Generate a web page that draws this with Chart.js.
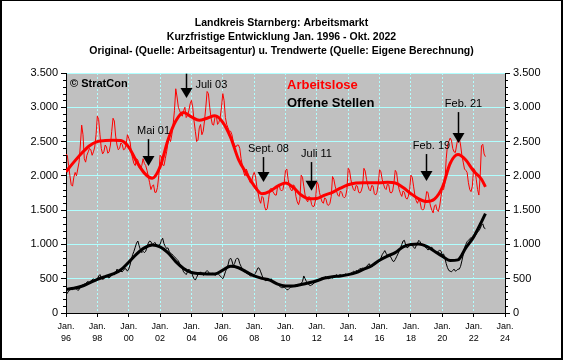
<!DOCTYPE html>
<html>
<head>
<meta charset="utf-8">
<script src="https://cdn.jsdelivr.net/npm/chart.js@4/dist/chart.umd.min.js"></script>
<style>
html, body { margin: 0; padding: 0; background: #fff; }
#wrap { width: 563px; height: 360px; }
</style>
</head>
<body>
<div id="wrap"><canvas id="c" width="563" height="360"></canvas></div>
<script>
var FONT = '"Liberation Sans", Arial, sans-serif';

// monthly values, Jan. 1996 - Okt. 2022
var startYear = 1996;
var arbeitslose = [
	2320, 2300, 2150, 2000, 1870, 1850, 1980, 2050, 2000, 2100, 2200, 2450,
	2740, 2600, 2250, 2200, 2300, 2350, 2400, 2380, 2300, 2350, 2420, 2600,
	2870, 2820, 2600, 2400, 2320, 2350, 2450, 2420, 2330, 2350, 2450, 2650,
	2840, 2800, 2580, 2450, 2380, 2400, 2480, 2460, 2380, 2390, 2450, 2600,
	2550, 2500, 2350, 2250, 2180, 2150, 2250, 2230, 2120, 2100, 2150, 2250,
	2180, 2150, 2080, 1990, 1900, 1800, 1850, 1870, 1760, 1760, 1830, 2000,
	2300, 2280, 2160, 2150, 2250, 2350, 2480, 2550, 2500, 2600, 2750, 2950,
	3270, 3150, 3000, 2950, 2900, 2870, 2950, 3000, 2850, 2880, 2950, 3050,
	3100, 3000, 2800, 2650, 2500, 2520, 2700, 2750, 2600, 2650, 2800, 3000,
	3230, 3200, 3000, 2850, 2750, 2740, 2850, 2880, 2750, 2780, 2850, 3000,
	3200, 3100, 2850, 2750, 2700, 2650, 2650, 2600, 2500, 2450, 2420, 2450,
	2450, 2400, 2250, 2150, 2050, 2000, 2100, 2050, 1950, 1900, 1900, 2000,
	2050, 2000, 1850, 1750, 1650, 1600, 1700, 1680, 1550, 1500, 1520, 1650,
	1800, 1820, 1780, 1750, 1720, 1720, 1850, 1880, 1800, 1780, 1800, 1900,
	2080, 2100, 1950, 1850, 1800, 1780, 1870, 1850, 1700, 1620, 1580, 1650,
	2010, 1980, 1850, 1720, 1650, 1620, 1700, 1680, 1580, 1550, 1560, 1650,
	1910, 1880, 1760, 1680, 1620, 1600, 1680, 1660, 1580, 1570, 1600, 1700,
	1990, 1950, 1850, 1780, 1720, 1700, 1780, 1760, 1700, 1680, 1700, 1800,
	2110, 2080, 1950, 1860, 1800, 1780, 1860, 1850, 1760, 1750, 1780, 1850,
	2110, 2070, 1950, 1860, 1800, 1780, 1860, 1850, 1740, 1720, 1760, 1880,
	2090, 2060, 1950, 1880, 1820, 1800, 1880, 1870, 1760, 1750, 1780, 1900,
	2080, 2050, 1900, 1800, 1740, 1700, 1780, 1760, 1680, 1660, 1700, 1800,
	2010, 1980, 1850, 1720, 1640, 1600, 1650, 1620, 1520, 1500, 1520, 1620,
	1770, 1760, 1650, 1560, 1500, 1460, 1560, 1580, 1500, 1480, 1560, 1700,
	1820, 1800, 1900, 2250, 2450, 2500, 2550, 2520, 2400, 2350, 2340, 2450,
	2560, 2550, 2450, 2300, 2200, 2100, 2080, 2050, 1900, 1800, 1770, 1850,
	2110, 2080, 1950, 1800, 1720, 2000, 2440, 2460, 2320, 2280
];
var offeneStellen = [
	260, 290, 320, 340, 350, 340, 360, 380, 350, 330, 340, 380,
	400, 410, 420, 430, 450, 460, 440, 470, 480, 500, 480, 470,
	490, 540, 560, 510, 490, 500, 520, 540, 520, 510, 530, 560,
	570, 560, 580, 640, 620, 600, 610, 600, 620, 650, 640, 610,
	640, 700, 780, 850, 900, 960, 1020, 1050, 980, 920, 880, 900,
	880, 900, 960, 1020, 1050, 1040, 1000, 1010, 1030, 1000, 980, 990,
	1000, 1060, 1090, 1010, 970, 940, 950, 900, 870, 860, 840, 820,
	800, 780, 760, 720, 680, 650, 600, 580, 560, 600, 640, 620,
	600, 540, 500, 480, 520, 560, 580, 600, 570, 550, 560, 600,
	620, 600, 570, 560, 580, 570, 550, 560, 590, 560, 540, 520,
	500, 540, 600, 650, 700, 780, 800, 760, 690, 720, 780, 800,
	790, 720, 680, 640, 620, 600, 580, 570, 560, 540, 540, 560,
	560, 580, 620, 660, 650, 600, 550, 500, 480, 470, 480, 490,
	480, 500, 470, 450, 440, 430, 420, 400, 380, 370, 370, 380,
	360, 340, 340, 360, 380, 380, 390, 400, 410, 390, 400, 420,
	430, 460, 540, 500, 460, 430, 410, 400, 410, 420, 440, 450,
	460, 470, 480, 500, 520, 510, 520, 530, 510, 500, 510, 520,
	510, 520, 540, 560, 540, 550, 560, 540, 550, 560, 570, 560,
	560, 570, 580, 590, 610, 600, 620, 610, 630, 650, 640, 660,
	640, 660, 680, 700, 720, 690, 670, 690, 700, 720, 740, 750,
	760, 800, 850, 880, 910, 870, 840, 860, 830, 800, 760, 750,
	780, 820, 860, 900, 950, 1000, 1050, 1060, 990, 950, 960, 1000,
	1010, 990, 960, 940, 980, 1020, 1060, 1040, 1000, 990, 980, 960,
	940, 920, 930, 950, 960, 930, 910, 880, 880, 900, 920, 900,
	850, 860, 800, 720, 660, 620, 610, 600, 620, 640, 610, 620,
	640, 640, 680, 760, 850, 950, 1000, 1040, 1060, 1080, 1100, 1080,
	1100, 1120, 1150, 1180, 1200, 1230, 1280, 1300, 1240, 1230
];

// trend values, half-yearly
var trendDates = [
	1996, 1996.5, 1997, 1997.5, 1998, 1998.5, 1999, 1999.5, 2000, 2000.5,
	2001, 2001.5, 2002, 2002.5, 2003, 2003.5, 2004, 2004.5, 2005, 2005.5,
	2006, 2006.5, 2007, 2007.5, 2008, 2008.5, 2009, 2009.5, 2010, 2010.5,
	2011, 2011.5, 2012, 2012.5, 2013, 2013.5, 2014, 2014.5, 2015, 2015.5,
	2016, 2016.5, 2017, 2017.5, 2018, 2018.5, 2019, 2019.5, 2020, 2020.5,
	2021, 2021.5, 2022, 2022.5, 2022.75
];
var trendArbeitslose = [
	2060, 2200, 2330, 2440, 2500, 2515, 2520, 2515, 2420, 2210,
	2040, 1965, 2130, 2520, 2800, 2925, 2860, 2810, 2840, 2875,
	2780, 2560, 2240, 2040, 1855, 1740, 1775, 1850, 1895, 1830,
	1720, 1665, 1670, 1720, 1760, 1820, 1870, 1895, 1900, 1900,
	1900, 1905, 1895, 1830, 1740, 1665, 1625, 1660, 1830, 2180,
	2310, 2230, 2070, 1950, 1840
];
var trendOffene = [
	345, 360, 390, 440, 490, 530, 570, 630, 740, 860,
	950, 990, 965, 880, 750, 650, 590, 575, 570, 570,
	625, 680, 660, 600, 540, 505, 480, 420, 395, 395,
	415, 440, 470, 510, 530, 540, 560, 590, 640, 690,
	770, 830, 880, 965, 1000, 1005, 970, 900, 830, 765,
	775, 950, 1110, 1330, 1450
];

var yTickLabels = ["0", "500", "1.000", "1.500", "2.000", "2.500", "3.000", "3.500"];
var xTickLabels = ["96", "98", "00", "02", "04", "06", "08", "10", "12", "14", "16", "18", "20", "22", "24"];

// arrows: label, date, top value, tip value
var arrowLabels = ["Mai 01", "Juli 03", "Sept. 08", "Juli 11", "Feb. 19", "Feb. 21"];
var arrowDates = [2001.25, 2003.68, 2008.58, 2011.6, 2018.94, 2021.02];
var arrowTop = [2536, 3490, 2274, 2201, 2318, 2930];
var arrowTip = [2143, 3134, 1910, 1783, 1924, 2478];

function monthly(values) {
	return values.map(function(v, i) { return { x: startYear + i / 12, y: v }; });
}
function byDate(dates, values) {
	return values.map(function(v, i) { return { x: dates[i], y: v }; });
}

var GRID = '#b0ffff';

var backdrop = {
	id: 'backdrop',
	beforeDraw: function(chart) {
		var ctx = chart.ctx, a = chart.chartArea;
		ctx.save();
		ctx.fillStyle = '#fff';
		ctx.fillRect(0, 0, chart.width, chart.height);
		ctx.fillStyle = '#c0c0c0';
		ctx.fillRect(a.left, a.top, a.right - a.left, a.bottom - a.top);
		ctx.restore();
	}
};

var notes = {
	id: 'notes',
	afterDatasetsDraw: function(chart) {
		var ctx = chart.ctx, a = chart.chartArea;
		var xs = chart.scales.x, ys = chart.scales.y;
		ctx.save();
		ctx.textBaseline = 'alphabetic';

		// arrows
		ctx.font = '11px ' + FONT;
		ctx.fillStyle = '#000';
		ctx.strokeStyle = '#000';
		arrowLabels.forEach(function(lab, i) {
			var px = Math.round(xs.getPixelForValue(arrowDates[i])) + 0.5;
			var top = ys.getPixelForValue(arrowTop[i]);
			var tip = ys.getPixelForValue(arrowTip[i]);
			ctx.lineWidth = 1.5;
			ctx.beginPath();
			ctx.moveTo(px, top);
			ctx.lineTo(px, tip - 8);
			ctx.stroke();
			ctx.beginPath();
			ctx.moveTo(px - 6, tip - 10);
			ctx.lineTo(px + 6, tip - 10);
			ctx.lineTo(px, tip);
			ctx.closePath();
			ctx.fill();
			if (i === 1) {
				ctx.textAlign = 'left';
				ctx.fillText(lab, px + 9, top + 14);
			} else {
				ctx.textAlign = 'center';
				ctx.fillText(lab, px + 5, top - 5);
			}
		});

		// copyright + legend
		ctx.textAlign = 'left';
		ctx.font = 'bold 11px ' + FONT;
		ctx.fillText('\u00a9 StratCon', a.left + 4, a.top + 14);
		ctx.font = 'bold 13px ' + FONT;
		ctx.fillStyle = '#ff0000';
		ctx.fillText('Arbeitslose', 287, a.top + 16);
		ctx.fillStyle = '#000';
		ctx.fillText('Offene Stellen', 287, a.top + 34);
		ctx.restore();
	},
	afterDraw: function(chart) {
		var ctx = chart.ctx, a = chart.chartArea, ys = chart.scales.y;
		ctx.save();
		ctx.strokeStyle = '#000';
		ctx.lineWidth = 1;
		ctx.beginPath();
		for (var v = 100; v < 3500; v += 100) {
			if (v % 500 === 0) continue;
			var py = Math.round(ys.getPixelForValue(v)) + 0.5;
			ctx.moveTo(a.left - 3, py);
			ctx.lineTo(a.left, py);
			ctx.moveTo(a.right, py);
			ctx.lineTo(a.right + 3, py);
		}
		ctx.stroke();
		// frame
		ctx.fillStyle = '#000';
		ctx.fillRect(0, 0, 2, chart.height);
		ctx.fillRect(chart.width - 2, 0, 2, chart.height);
		ctx.fillRect(0, 0, chart.width, 1);
		ctx.fillRect(0, chart.height - 2, chart.width, 2);
		ctx.restore();
	}
};

var yTicks = {
	stepSize: 500,
	color: '#000',
	padding: 3,
	font: { family: FONT, size: 11 },
	callback: function(v) { return yTickLabels[v / 500]; }
};

new Chart(document.getElementById('c'), {
	type: 'line',
	data: {
		datasets: [
			{ data: byDate(trendDates, trendArbeitslose), borderColor: '#ff0000', borderWidth: 3, cubicInterpolationMode: 'monotone', order: 0 },
			{ data: byDate(trendDates, trendOffene), borderColor: '#000', borderWidth: 3, cubicInterpolationMode: 'monotone', order: 0 },
			{ data: monthly(arbeitslose), borderColor: '#ff0000', borderWidth: 1, order: 1 },
			{ data: monthly(offeneStellen), borderColor: '#000', borderWidth: 1, order: 1 }
		]
	},
	options: {
		responsive: false,
		animation: false,
		devicePixelRatio: 1,
		layout: { padding: 0 },
		elements: { point: { radius: 0 }, line: { tension: 0 } },
		plugins: {
			legend: { display: false },
			tooltip: { enabled: false },
			title: {
				display: true,
				text: [
					'Landkreis Starnberg: Arbeitsmarkt',
					'Kurzfristige Entwicklung Jan. 1996 - Okt. 2022',
					'Original- (Quelle: Arbeitsagentur) u. Trendwerte (Quelle: Eigene Berechnung)'
				],
				color: '#000',
				font: { family: FONT, size: 10.5, weight: 'bold', lineHeight: '14px' },
				padding: { top: 16, bottom: 15 }
			}
		},
		scales: {
			x: {
				type: 'linear',
				min: 1996,
				max: 2024,
				afterFit: function(s) { s.height = 47; },
				ticks: {
					stepSize: 2,
					autoSkip: false,
					maxRotation: 0,
					color: '#000',
					padding: 4,
					font: { family: FONT, size: 9, lineHeight: '12px' },
					callback: function(v) { return ['Jan.', xTickLabels[(v - 1996) / 2]]; }
				},
				grid: { color: GRID, tickColor: '#000', tickLength: 4 },
				border: { color: '#000', dash: [2, 2] }
			},
			y: {
				position: 'left',
				min: 0,
				max: 3500,
				afterFit: function(s) { s.width = 66; },
				ticks: yTicks,
				grid: { color: GRID, tickColor: '#000', tickLength: 5 },
				border: { color: '#000' }
			},
			y2: {
				position: 'right',
				min: 0,
				max: 3500,
				afterFit: function(s) { s.width = 58; },
				ticks: yTicks,
				grid: { drawOnChartArea: false, tickColor: '#000', tickLength: 5 },
				border: { color: '#000' }
			}
		}
	},
	plugins: [backdrop, notes]
});
</script>
</body>
</html>
